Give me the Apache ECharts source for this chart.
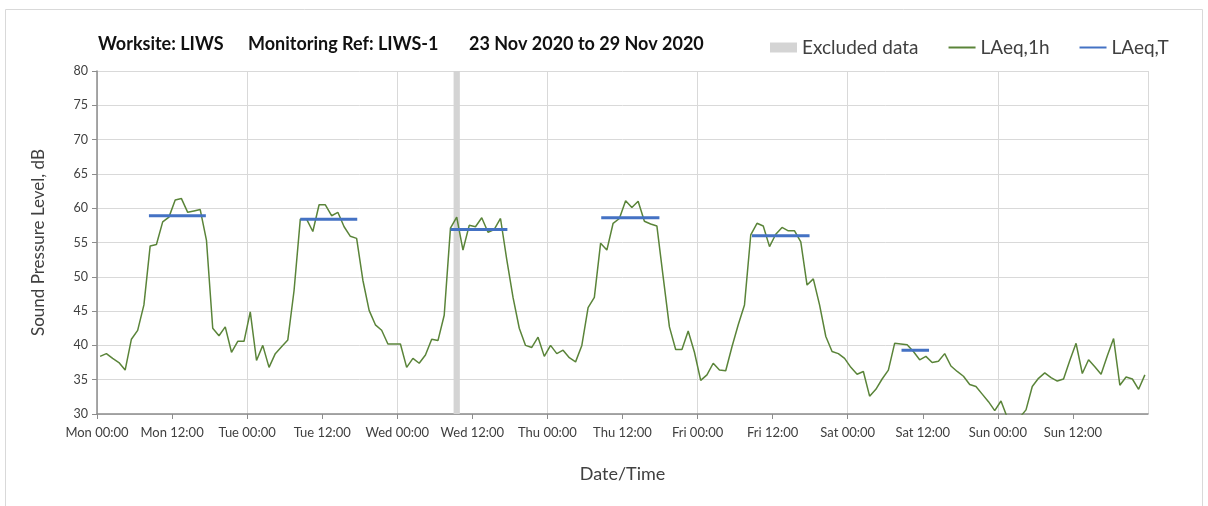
<!DOCTYPE html>
<html>
<head>
<meta charset="utf-8">
<script src="https://cdn.jsdelivr.net/npm/echarts@6/dist/echarts.min.js"></script>
<style>
  html, body { margin: 0; padding: 0; background: #fff; }
  #chart { width: 1208px; height: 506px; }
</style>
</head>
<body>
<div id="chart"></div>
<script>
// LAeq,1h - one value per hour, Mon 00:00 .. Sun 23:00
const hourly = [
  38.4, 38.8, 38.1, 37.5, 36.4, 40.9, 42.2, 45.9, 54.5, 54.7, 58.0, 58.7,
  61.2, 61.4, 59.4, 59.6, 59.8, 55.3, 42.5, 41.4, 42.7, 39.0, 40.6, 40.6,
  44.9, 37.8, 40.0, 36.8, 38.8, 39.8, 40.8, 48.0, 58.4, 58.4, 56.6, 60.5,
  60.5, 58.9, 59.4, 57.3, 55.9, 55.6, 49.5, 45.1, 43.0, 42.2, 40.2, 40.2,
  40.2, 36.8, 38.1, 37.4, 38.6, 40.9, 40.7, 44.4, 57.1, 58.7, 53.9, 57.5,
  57.3, 58.6, 56.5, 56.9, 58.5, 52.5, 47.0, 42.5, 40.0, 39.7, 41.2, 38.4,
  40.0, 38.8, 39.3, 38.2, 37.6, 40.0, 45.5, 47.0, 54.9, 53.9, 57.8, 58.5,
  61.1, 60.1, 61.0, 58.1, 57.7, 57.4, 50.0, 42.7, 39.4, 39.4, 42.1, 39.0,
  34.9, 35.7, 37.4, 36.4, 36.3, 39.8, 43.0, 45.9, 56.1, 57.8, 57.4, 54.4,
  56.2, 57.2, 56.7, 56.7, 55.1, 48.8, 49.7, 45.9, 41.3, 39.1, 38.8, 38.1,
  36.8, 35.8, 36.2, 32.6, 33.6, 35.1, 36.4, 40.3, 40.2, 40.1, 39.1, 37.9,
  38.4, 37.5, 37.7, 38.8, 37.0, 36.2, 35.5, 34.3, 34.0, 32.9, 31.8, 30.5,
  31.9, 29.5, 28.5, 29.5, 30.6, 34.0, 35.2, 36.0, 35.3, 34.8, 35.1, 37.8,
  40.3, 35.9, 37.9, 36.9, 35.8, 38.5, 41.0, 34.2, 35.4, 35.1, 33.6, 35.7
];

// LAeq,T - daytime period averages (hours from Mon 00:00)
const periodStart = [8.3, 32.5, 56.5, 80.6, 104.7, 128.6];
const periodEnd = [17.4, 41.6, 65.6, 89.9, 113.9, 133.0];
const periodLevel = [58.9, 58.4, 56.9, 58.6, 56.0, 39.3];

// excluded hour (Wed 09:00 - 10:00)
const excludedFrom = 57;
const excludedTo = 58;

const dayNames = ['Mon', 'Tue', 'Wed', 'Thu', 'Fri', 'Sat', 'Sun', 'Mon'];

// title pieces
const titleParts = ['Worksite: LIWS', 'Monitoring Ref: LIWS-1', '23 Nov 2020 to 29 Nov 2020'];
const titleLeft = [98, 248, 469];

const FONT = 'Lato, "Open Sans", sans-serif';
const GREEN = '#5a8439';
const BLUE = '#4472c4';
const GREY_BAND = '#d4d4d4';

const lineData = hourly.map((v, i) => [i + 0.5, v]);

const periodData = [];
periodLevel.forEach((v, k) => {
  periodData.push([periodStart[k], v]);
  periodData.push([periodEnd[k], v]);
  periodData.push([periodEnd[k], null]);
});

const myChart = echarts.init(document.getElementById('chart'));

const option = {
  animation: false,
  title: titleParts.map((t, k) => ({
    text: t,
    left: titleLeft[k],
    top: 35,
    padding: 0,
    textStyle: { fontFamily: FONT, fontSize: 18, fontWeight: 'bold', color: '#111' }
  })),
  legend: {
    left: 770,
    top: 38,
    padding: 0,
    itemWidth: 27,
    itemHeight: 10,
    itemGap: 29,
    textStyle: { fontFamily: FONT, fontSize: 19, color: '#404040' },
    data: [
      { name: 'Excluded data', icon: 'rect', itemStyle: { color: GREY_BAND } },
      { name: 'LAeq,1h', itemStyle: { opacity: 0 } },
      { name: 'LAeq,T', itemStyle: { opacity: 0 } }
    ]
  },
  graphic: [{
    type: 'rect',
    shape: { x: 5.5, y: 9.5, width: 1197, height: 520 },
    style: { fill: 'none', stroke: '#d9d9d9', lineWidth: 1 },
    silent: true
  }],
  grid: { left: 97, right: 60, top: 71, bottom: 92 },
  xAxis: [
    {
      type: 'value',
      min: 0,
      max: 168,
      interval: 12,
      name: 'Date/Time',
      nameLocation: 'middle',
      nameGap: 51,
      nameTextStyle: { fontFamily: FONT, fontSize: 18, color: '#404040' },
      axisLine: { lineStyle: { color: '#8c8c8c', width: 1.5 } },
      axisTick: { show: true, length: 5, lineStyle: { color: '#8c8c8c' } },
      splitLine: { show: false },
      axisLabel: {
        fontFamily: FONT,
        fontSize: 13,
        color: '#404040',
        margin: 12,
        showMaxLabel: false,
        formatter: v => dayNames[Math.floor(v / 24)] + ' ' + (v % 24 === 0 ? '00:00' : '12:00')
      }
    },
    {
      type: 'value',
      min: 0,
      max: 168,
      interval: 24,
      position: 'bottom',
      axisLine: { show: false },
      axisTick: { show: false },
      axisLabel: { show: false },
      splitLine: { show: true, lineStyle: { color: '#d9d9d9', width: 1 } }
    }
  ],
  yAxis: {
    type: 'value',
    min: 30,
    max: 80,
    interval: 5,
    name: 'Sound Pressure Level, dB',
    nameLocation: 'middle',
    nameGap: 50,
    nameTextStyle: { fontFamily: FONT, fontSize: 17, color: '#404040' },
    axisLine: { show: true, lineStyle: { color: '#8c8c8c', width: 1.5 } },
    axisTick: { show: true, length: 5, lineStyle: { color: '#8c8c8c' } },
    splitLine: { lineStyle: { color: '#d9d9d9', width: 1 } },
    axisLabel: { fontFamily: FONT, fontSize: 12.5, color: '#404040', margin: 9 }
  },
  series: [
    {
      name: 'Excluded data',
      type: 'line',
      data: [],
      itemStyle: { color: GREY_BAND },
      markArea: {
        silent: true,
        itemStyle: { color: GREY_BAND },
        data: [[{ xAxis: excludedFrom }, { xAxis: excludedTo }]]
      }
    },
    {
      name: 'LAeq,1h',
      type: 'line',
      data: lineData,
      showSymbol: false,
      symbol: 'none',
      lineStyle: { color: GREEN, width: 1.5 },
      itemStyle: { color: GREEN },
      z: 3
    },
    {
      name: 'LAeq,T',
      type: 'line',
      data: periodData,
      showSymbol: false,
      symbol: 'none',
      connectNulls: false,
      lineStyle: { color: BLUE, width: 3 },
      itemStyle: { color: BLUE },
      z: 4
    }
  ]
};

myChart.setOption(option);
</script>
</body>
</html>
